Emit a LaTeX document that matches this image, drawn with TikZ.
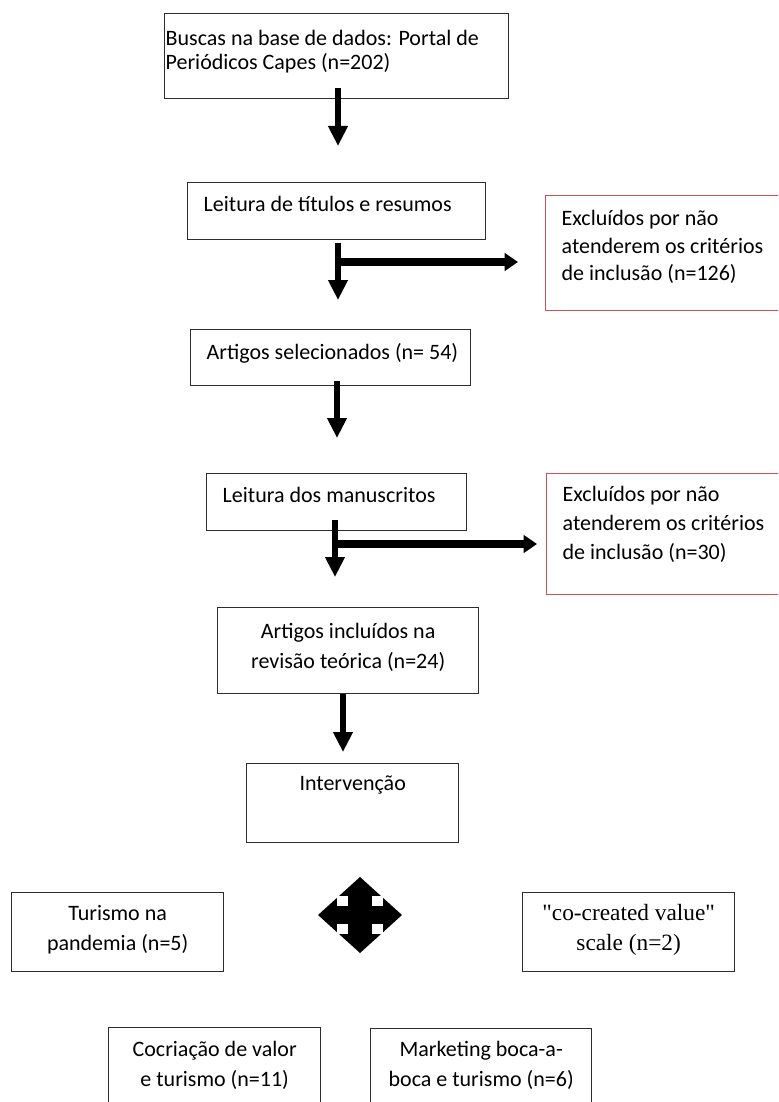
\documentclass[tikz,border=0pt]{standalone}
\usepackage{fontspec}
\setmainfont{Carlito}
\newfontfamily\serifx{Liberation Serif}
\usetikzlibrary{arrows.meta}
\definecolor{boxcol}{RGB}{45,45,45}
\definecolor{redcol}{RGB}{208,80,88}
\newcommand{\leftbx}[3]{\parbox[t]{#1}{\raggedright\leftskip=#2\relax #3}}
\newcommand{\cenbx}[2]{\parbox[t]{#1}{\centering #2}}
\tikzset{
  bx/.style={draw=boxcol, line width=1pt, anchor=north west, inner xsep=0pt, inner ysep=0pt, font=\fontsize{16.5}{20.6}\selectfont},
  cbx/.style={bx, font=\fontsize{16.5}{22.5}\selectfont},
  redbx/.style={bx, draw=redcol},
  varr/.style={line width=4.5pt, -{Triangle[width=14pt,length=15pt]}},
  harr/.style={line width=6pt, -{Triangle[width=13pt,length=10pt]}},
}
\begin{document}
\begin{tikzpicture}[x=0.75pt,y=-0.75pt]
\useasboundingbox (0,0) rectangle (778,1102);
\clip (0,0) rectangle (778,1102);
\fill[white] (0,0) rectangle (778,1102);

% boxes
\node[bx, text height=24pt, text depth=39.75pt, font=\fontsize{16.5}{18}\selectfont] (b1) at (164,13)
  {\leftbx{258pt}{0.75pt}{Buscas na base de dados: Portal de\\Periódicos Capes (n=202)}};
\node[bx, text height=21.75pt, text depth=21pt] (b2) at (187,182)
  {\leftbx{223.5pt}{12pt}{Leitura de títulos e resumos}};
\node[redbx, text height=22.5pt, text depth=63.75pt] (r1) at (545,195)
  {\leftbx{183.75pt}{12pt}{Excluídos por não\\atenderem os critérios\\de inclusão (n=126)}};
\node[bx, text height=22.5pt, text depth=19.5pt] (b3) at (190,329)
  {\leftbx{210pt}{12pt}{Artigos selecionados (n= 54)}};
\node[bx, text height=21.75pt, text depth=21pt] (b4) at (206,473)
  {\leftbx{195pt}{12pt}{Leitura dos manuscritos}};
\node[redbx, text height=21pt, text depth=69.75pt, font=\fontsize{16.5}{21.75}\selectfont] (r2) at (546,473)
  {\leftbx{183pt}{12pt}{Excluídos por não\\atenderem os critérios\\de inclusão (n=30)}};
\node[cbx, text height=23.25pt, text depth=41.25pt] (b5) at (217,607)
  {\cenbx{195.75pt}{Artigos incluídos na\\revisão teórica (n=24)}};
\node[cbx, text height=20.25pt, text depth=39pt] (int) at (246,763)
  {\cenbx{159pt}{Intervenção}};
\node[cbx, text height=21pt, text depth=38.25pt] (tur) at (11,892)
  {\cenbx{159pt}{Turismo na\\pandemia (n=5)}};
\node[cbx, text height=21pt, text depth=38.25pt, font=\serifx\fontsize{17.5}{22.5}\selectfont] (cov) at (522,892)
  {\cenbx{159pt}{"co-created value"\\scale (n=2)}};
\node[cbx, text height=21.75pt, text depth=40.5pt] (coc) at (108,1027)
  {\cenbx{159pt}{Cocriação de valor\\e turismo (n=11)}};
\node[cbx, text height=21pt, text depth=40.5pt] (mkt) at (370,1028)
  {\cenbx{165.75pt}{Marketing boca-a-\\boca e turismo (n=6)}};

% arrow end points
\coordinate (a1e) at (338,146);
\coordinate (a2e) at (338,300);
\coordinate (j2) at (338,262);
\coordinate (a3e) at (337,438);
\coordinate (a4e) at (335,577);
\coordinate (j4) at (335,544);
\coordinate (a5e) at (343,752);

% arrows
\draw[varr] (b1.south -| a1e) ++(0,-11) -- (a1e);
\draw[varr] (b2.south -| a2e) ++(0,3) -- (a2e);
\draw[harr] (j2) -- ([xshift=-20.25pt]r1.west |- j2);
\draw[varr] (b3.south -| a3e) ++(0,-5) -- (a3e);
\draw[varr] (b4.south -| a4e) ++(0,-11) -- (a4e);
\draw[harr] (j4) -- ([xshift=-6.75pt]r2.west |- j4);
\draw[varr] (b5.south -| a5e) -- (a5e);

% four-way arrow
\fill (360,877) -- (402,915) -- (360,953) -- (318,915) -- cycle;
\fill[white] (337,896) rectangle (348,906);
\fill[white] (372,896) rectangle (383,906);
\fill[white] (337,924) rectangle (348,934);
\fill[white] (372,924) rectangle (383,934);
\end{tikzpicture}
\end{document}
